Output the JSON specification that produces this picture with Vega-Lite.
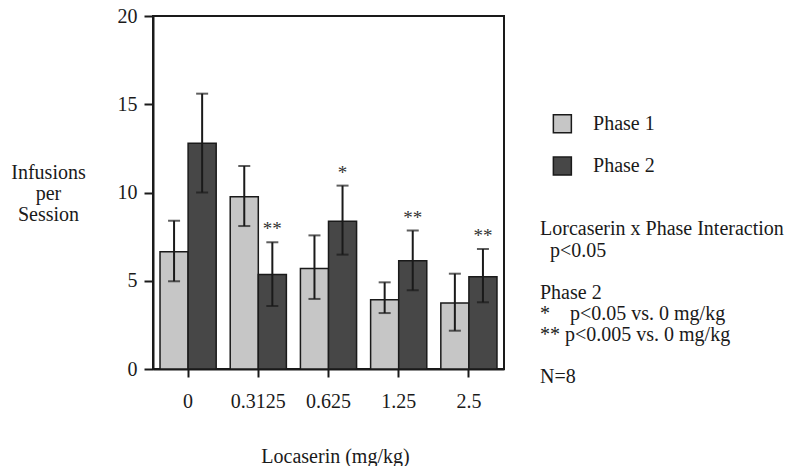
{
  "$schema": "https://vega.github.io/schema/vega-lite/v6.json",
  "padding": {"left": 9, "top": 5, "right": 0, "bottom": 0},
  "background": "white",
  "config": {
    "font": "Liberation Serif",
    "text": {"font": "Liberation Serif", "color": "#1a1a1a"},
    "axis": {"labelFont": "Liberation Serif", "titleFont": "Liberation Serif", "labelColor": "#1a1a1a", "titleColor": "#1a1a1a", "titleFontWeight": "normal"}
  },
  "resolve": {"scale": {"x": "independent", "y": "independent"}},
  "datasets": {
    "bars": [
      {"dose": "0", "phase": "Phase 1", "mean": 6.65, "lo": 4.97, "hi": 8.4, "sig": ""},
      {"dose": "0", "phase": "Phase 2", "mean": 12.79, "lo": 10.0, "hi": 15.6, "sig": ""},
      {"dose": "0.3125", "phase": "Phase 1", "mean": 9.76, "lo": 8.1, "hi": 11.5, "sig": ""},
      {"dose": "0.3125", "phase": "Phase 2", "mean": 5.35, "lo": 3.57, "hi": 7.18, "sig": "**"},
      {"dose": "0.625", "phase": "Phase 1", "mean": 5.7, "lo": 3.97, "hi": 7.57, "sig": ""},
      {"dose": "0.625", "phase": "Phase 2", "mean": 8.37, "lo": 6.48, "hi": 10.39, "sig": "*"},
      {"dose": "1.25", "phase": "Phase 1", "mean": 3.93, "lo": 3.17, "hi": 4.91, "sig": ""},
      {"dose": "1.25", "phase": "Phase 2", "mean": 6.14, "lo": 4.46, "hi": 7.84, "sig": "**"},
      {"dose": "2.5", "phase": "Phase 1", "mean": 3.74, "lo": 2.17, "hi": 5.4, "sig": ""},
      {"dose": "2.5", "phase": "Phase 2", "mean": 5.23, "lo": 3.78, "hi": 6.8, "sig": "**"}
    ],
    "legendRows": [
      {"phase": "Phase 1", "line": 5},
      {"phase": "Phase 2", "line": 7}
    ],
    "notes": [
      {"text": "Lorcaserin x Phase Interaction", "line": 10},
      {"text": "p<0.05", "line": 11},
      {"text": "Phase 2", "line": 13},
      {"text": "*\u00a0\u00a0\u00a0\u00a0p<0.05 vs. 0 mg/kg", "line": 14},
      {"text": "** p<0.005 vs. 0 mg/kg", "line": 15},
      {"text": "N=8", "line": 17}
    ]
  },
  "hconcat": [
    {
      "width": 351,
      "height": 353,
      "view": {"stroke": "#1a1a1a", "strokeWidth": 2},
      "data": {"name": "bars"},
      "encoding": {
        "x": {
          "field": "dose", "type": "nominal", "sort": ["0", "0.3125", "0.625", "1.25", "2.5"],
          "scale": {"paddingInner": 0.2, "paddingOuter": 0.1},
          "axis": {
            "title": "Locaserin (mg/kg)", "titleFontSize": 20, "titlePadding": 35, "titleX": 182,
            "titleFont": "Liberation Serif", "labelFont": "Liberation Serif",
            "labelFontSize": 20, "labelAngle": 0, "labelPadding": 14,
            "domainColor": "#1a1a1a", "domainWidth": 2, "tickColor": "#1a1a1a", "tickWidth": 2, "tickSize": 8
          }
        },
        "xOffset": {"field": "phase", "type": "nominal"}
      },
      "layer": [
        {
          "mark": {"type": "bar", "stroke": "#1a1a1a", "strokeWidth": 1.5},
          "encoding": {
            "y": {
              "field": "mean", "type": "quantitative", "scale": {"domain": [0, 20], "nice": false},
              "axis": {
                "values": [0, 5, 10, 15, 20], "grid": false,
                "title": ["Infusions", "per", "Session"], "titleAngle": 0, "titleAlign": "center", "titleBaseline": "middle",
                "titleX": -105, "titleY": 156, "titleFontSize": 20, "titleLineHeight": 21,
                "titleFont": "Liberation Serif", "labelFont": "Liberation Serif",
                "labelFontSize": 20, "labelPadding": 7,
                "domainColor": "#1a1a1a", "domainWidth": 2, "tickColor": "#1a1a1a", "tickWidth": 2, "tickSize": 9
              }
            },
            "color": {
              "field": "phase", "type": "nominal",
              "scale": {"domain": ["Phase 1", "Phase 2"], "range": ["#c6c6c6", "#474747"]},
              "legend": null
            }
          }
        },
        {
          "mark": {"type": "rule", "color": "#1a1a1a", "strokeWidth": 2},
          "encoding": {
            "y": {"field": "lo", "type": "quantitative"},
            "y2": {"field": "hi"}
          }
        },
        {
          "mark": {"type": "tick", "color": "#1a1a1a", "thickness": 2, "size": 12, "orient": "horizontal"},
          "encoding": {"y": {"field": "hi", "type": "quantitative"}}
        },
        {
          "mark": {"type": "tick", "color": "#1a1a1a", "thickness": 2, "size": 12, "orient": "horizontal"},
          "encoding": {"y": {"field": "lo", "type": "quantitative"}}
        },
        {
          "mark": {"type": "text", "font": "Liberation Serif", "fontSize": 19, "baseline": "alphabetic", "dy": -7, "color": "#333333"},
          "encoding": {
            "y": {"field": "hi", "type": "quantitative"},
            "text": {"field": "sig"}
          }
        }
      ]
    },
    {
      "width": 260,
      "height": 353,
      "view": {"stroke": null},
      "layer": [
        {
          "data": {"name": "legendRows"},
          "mark": {"type": "point", "shape": "square", "filled": true, "size": 324, "stroke": "#1a1a1a", "strokeWidth": 1.5, "opacity": 1},
          "encoding": {
            "x": {"datum": 0.086, "type": "quantitative", "scale": {"domain": [0, 1], "nice": false}, "axis": null},
            "y": {"field": "line", "type": "quantitative", "scale": {"domain": [-0.1, 16.6], "reverse": true, "nice": false, "zero": false}, "axis": null},
            "color": {"field": "phase", "type": "nominal", "legend": null}
          }
        },
        {
          "data": {"name": "legendRows"},
          "mark": {"type": "text", "font": "Liberation Serif", "fontSize": 20, "align": "left", "baseline": "middle", "color": "#1a1a1a"},
          "encoding": {
            "x": {"datum": 0.204, "type": "quantitative"},
            "y": {"field": "line", "type": "quantitative"},
            "text": {"field": "phase"}
          }
        },
        {
          "data": {"name": "notes"},
          "transform": [{"filter": "datum.line != 11"}],
          "mark": {"type": "text", "font": "Liberation Serif", "fontSize": 20, "align": "left", "baseline": "middle", "color": "#1a1a1a"},
          "encoding": {
            "x": {"datum": 0, "type": "quantitative"},
            "y": {"field": "line", "type": "quantitative"},
            "text": {"field": "text"}
          }
        },
        {
          "data": {"name": "notes"},
          "transform": [{"filter": "datum.line == 11"}],
          "mark": {"type": "text", "font": "Liberation Serif", "fontSize": 20, "align": "left", "baseline": "middle", "color": "#1a1a1a", "dx": 10},
          "encoding": {
            "x": {"datum": 0, "type": "quantitative"},
            "y": {"field": "line", "type": "quantitative"},
            "text": {"field": "text"}
          }
        }
      ]
    }
  ],
  "spacing": 35
}
